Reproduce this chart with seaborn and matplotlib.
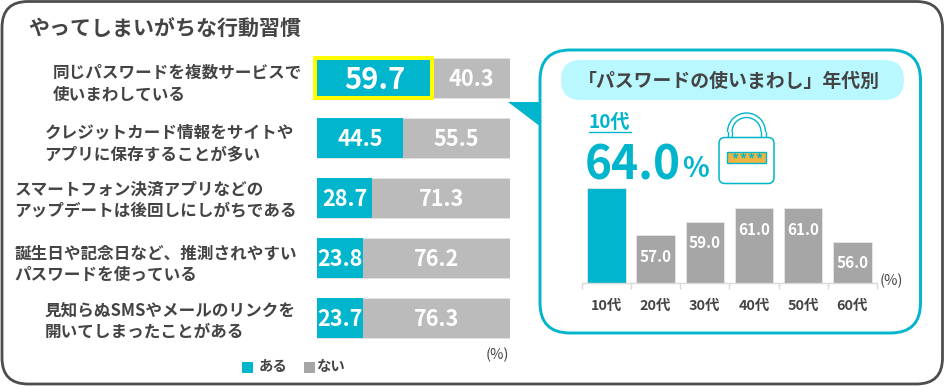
import matplotlib
matplotlib.use('Agg')
import matplotlib.pyplot as plt
import seaborn as sns
from matplotlib.patches import FancyBboxPatch, Rectangle, Polygon, Arc

sns.set_theme(style='white')
plt.rcParams['font.family'] = ['Noto Sans CJK JP', 'DejaVu Sans']

# data
habits = ['同じパスワードを複数サービスで\n使いまわしている',
          'クレジットカード情報をサイトや\nアプリに保存することが多い',
          'スマートフォン決済アプリなどの\nアップデートは後回しにしがちである',
          '誕生日や記念日など、推測されやすい\nパスワードを使っている',
          '見知らぬSMSやメールのリンクを\n開いてしまったことがある']
aru = [59.7, 44.5, 28.7, 23.8, 23.7]
nai = [40.3, 55.5, 71.3, 76.2, 76.3]
ages = ['10代', '20代', '30代', '40代', '50代', '60代']
age_vals = [64.0, 57.0, 59.0, 61.0, 61.0, 56.0]

TEAL = '#00b5cc'
GRAY = '#bbbbbb'
DARK_GRAY = '#a6a6a6'
TXT = '#444444'
W, H = 945, 386

fig = plt.figure(figsize=(9.45, 3.86), dpi=100)


def px_axes(x0, y0, x1, y1, z):
    # axes from pixel box, y counted from the top
    return fig.add_axes([x0 / W, 1 - y1 / H, (x1 - x0) / W, (y1 - y0) / H], zorder=z)


# background layer, in pixels
bg = px_axes(0, 0, W, H, 0)
bg.set_xlim(0, W)
bg.set_ylim(H, 0)
bg.axis('off')
bg.add_patch(FancyBboxPatch((2, 1.5), 940.5, 382.5, boxstyle='round,pad=0,rounding_size=26',
                            fc='white', ec='#4d4d4d', lw=2))
bg.add_patch(Polygon([(508, 101.5), (541, 101.5), (541, 127)], fc=TEAL, ec='none'))
bg.add_patch(FancyBboxPatch((540, 50), 380.5, 283, boxstyle='round,pad=0,rounding_size=30',
                            fc='white', ec=TEAL, lw=2.1))
bg.add_patch(FancyBboxPatch((561, 60), 343, 40, boxstyle='round,pad=0,rounding_size=20',
                            fc='#b9f8ff', ec='none'))

bg.text(28, 28, 'やってしまいがちな行動習慣', fontsize=15.1, weight='bold', color=TXT, va='center')
bg.text(729, 81, '「パスワードの使いまわし」年代別', fontsize=13.6, weight='bold', color=TXT,
        va='center', ha='center')

# left labels
label_x = [52.5, 44.5, 14.5, 14.5, 44.5]
label_y = [84, 143, 200.5, 264, 321]
for t, lx, ly in zip(habits, label_x, label_y):
    bg.text(lx, ly, t, fontsize=11.95, weight='bold', color=TXT, va='center', ha='left', linespacing=1.27)

# legend
bg.add_patch(Rectangle((242, 361.5), 11, 11.5, fc=TEAL, ec='none'))
bg.text(259, 367, 'ある', fontsize=10.4, weight='bold', color=TXT, va='center')
bg.add_patch(Rectangle((303.5, 361.5), 11, 11.5, fc=DARK_GRAY, ec='none'))
bg.text(316, 367, 'ない', fontsize=10.4, weight='bold', color=TXT, va='center')
bg.text(497, 355, '(%)', fontsize=10.5, color=TXT, va='center', ha='center')
bg.text(891, 281, '(%)', fontsize=10.5, color=TXT, va='center', ha='center')

# big number
bg.text(609.5, 122.5, ages[0], fontsize=13.7, weight='bold', color=TEAL, va='center', ha='center')
bg.plot([589, 631], [131.5, 131.5], color=TEAL, lw=1)
bg.text(585, 165, f'{age_vals[0]:.1f}', fontsize=33.2, weight='bold', color=TEAL, va='center', ha='left')
bg.text(682, 169, '%', fontsize=20, weight='bold', color=TEAL, va='center', ha='left')

# lock
bg.add_patch(Arc((746.5, 132), 38, 38, theta1=180, theta2=360, ec=TEAL, lw=1))
bg.add_patch(Arc((746.5, 132), 29, 29, theta1=180, theta2=360, ec=TEAL, lw=1))
bg.plot([727.5, 727.5], [132, 137], color=TEAL, lw=1)
bg.plot([765.5, 765.5], [132, 137], color=TEAL, lw=1)
bg.plot([732, 732], [132, 137], color=TEAL, lw=1)
bg.plot([761, 761], [132, 137], color=TEAL, lw=1)
bg.add_patch(FancyBboxPatch((719, 137.5), 55, 46, boxstyle='round,pad=0,rounding_size=6',
                            fc='white', ec=TEAL, lw=1.1))
bg.add_patch(Rectangle((727, 152), 39, 11, fc='#f2b441', ec=TEAL, lw=1))
for i in range(4):
    bg.text(734.5 + i * 8, 160, '*', fontsize=10, weight='bold', color=TEAL, va='center', ha='center')

# left stacked bars
ax = px_axes(317, 48, 510, 347.5, 1)
ax.patch.set_alpha(0)
totals = [a + n for a, n in zip(aru, nai)]
bar_w = 40 / 59.9
sns.barplot(x=totals, y=habits, color=GRAY, width=bar_w, saturation=1, edgecolor='#e4e4e4', linewidth=0.7, ax=ax)
sns.barplot(x=aru, y=habits, color=TEAL, width=bar_w, saturation=1, edgecolor='none', ax=ax)
ax.set_xlim(0, 100)
ax.set_ylim(4.5, -0.5)
ax.set_xlabel('')
ax.set_ylabel('')
ax.set_xticks([])
ax.set_yticks([])
sns.despine(ax=ax, left=True, bottom=True)
ax.add_patch(Rectangle((-1, -bar_w / 2), aru[0] + 1, bar_w, fill=False, ec='#ffff00', lw=2.9,
                       clip_on=False, zorder=5))
for i in range(len(aru)):
    big = 21 if i == 0 else 15.6
    ax.text(aru[i] / 2, i + 0.03, f'{aru[i]:.1f}', fontsize=big, weight='bold', color='white',
            ha='center', va='center', zorder=6)
    ax.text(aru[i] + nai[i] / 2, i + 0.03, f'{nai[i]:.1f}', fontsize=15.6, weight='bold', color='white',
            ha='center', va='center', zorder=6)

# right bars by age
ax2 = px_axes(581.7, 181.5, 877, 282.7, 1)
ax2.patch.set_alpha(0)
sns.barplot(x=ages, y=age_vals, hue=ages, palette=[TEAL] + [DARK_GRAY] * 5, width=0.78, saturation=1,
            edgecolor='#e4e4e4', linewidth=0.7, legend=False, ax=ax2)
ax2.set_xlim(-0.5, 5.5)
ax2.set_ylim(50, 65)
ax2.set_yticks([])
ax2.set_xlabel('')
ax2.set_ylabel('')
sns.despine(ax=ax2, left=True)
ax2.spines['bottom'].set_color('#d9d9d9')
ax2.spines['bottom'].set_linewidth(1)
ax2.set_xticks(range(6))
ax2.set_xticklabels(ages, fontsize=10.4, weight='bold', color=TXT)
ax2.tick_params(axis='x', which='major', length=0, pad=12)
ax2.set_xticks([i - 0.5 for i in range(7)], minor=True)
ax2.tick_params(axis='x', which='minor', bottom=True, length=4, width=1, color='#d9d9d9')
for i, v in enumerate(age_vals):
    if i == 0:
        continue
    ax2.annotate(f'{v:.1f}', (i, v), xytext=(0, -15.2), textcoords='offset points', fontsize=11,
                 weight='bold', color='white', ha='center', va='center')

fig.savefig('out.png', dpi=100)
